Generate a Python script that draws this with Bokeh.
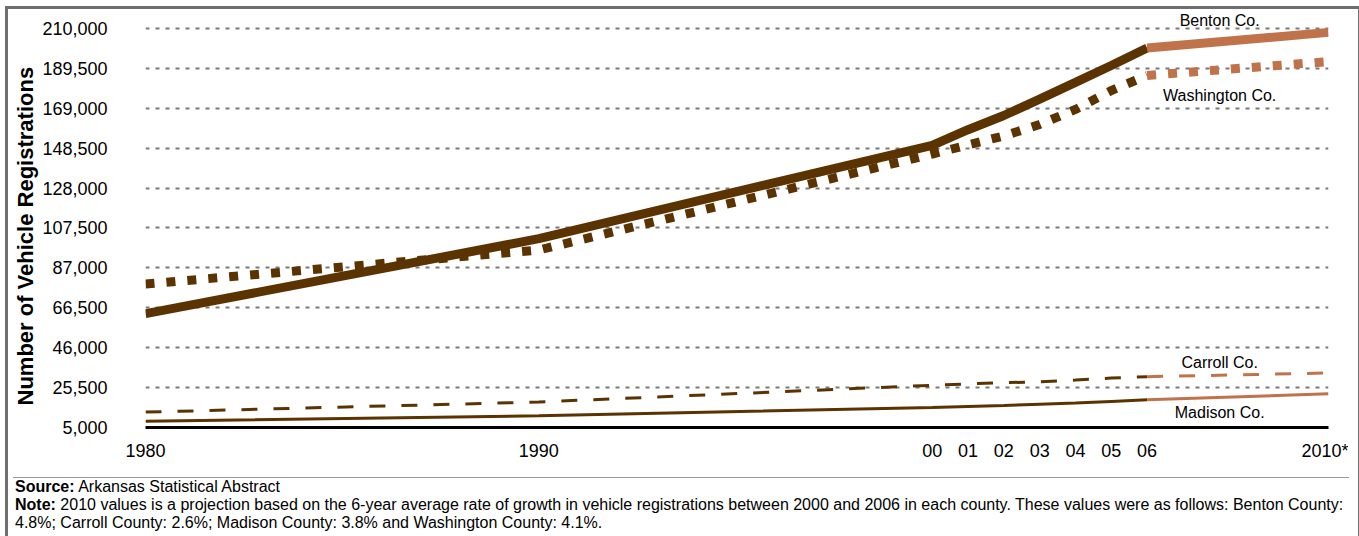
import numpy as np
from bokeh.plotting import figure
from bokeh.models import ColumnDataSource, FixedTicker, NumeralTickFormatter, Range1d, Title, Div
from bokeh.layouts import column
from bokeh.core.properties import value
from bokeh.embed import file_html
from bokeh.resources import INLINE

# ---------------- data ----------------
YEARS = [1980, 1990, 2000, 2001, 2002, 2003, 2004, 2005, 2006, 2010]
BENTON = [63500, 102000, 150000, 158000, 165300, 173700, 182300, 191000, 200000, 208000]
WASHINGTON = [78700, 96200, 145500, 150200, 154800, 160700, 168400, 178100, 185900, 193000]
CARROLL = [12900, 18100, 26700, 27400, 28000, 28500, 29400, 30400, 31100, 33000]
MADISON = [8200, 11000, 15300, 15800, 16300, 17000, 17600, 18400, 19200, 22300]
SERIES_NAMES = ["Benton Co.", "Washington Co.", "Carroll Co.", "Madison Co."]
LABEL_VALUES = [214100, 175600, 38400, 12700]

Y_TICKS = [5000, 25500, 46000, 66500, 87000, 107500, 128000, 148500, 169000, 189500, 210000]
X_TICK_YEARS = [1980, 1990, 2000, 2001, 2002, 2003, 2004, 2005, 2006, 2010]
X_TICK_LABELS = ["1980", "1990", "00", "01", "02", "03", "04", "05", "06", "2010*"]

# the original chart's time axis is not linear: piecewise year -> axis slot
AXIS_YEARS = [1980, 2000, 2006, 2010]
AXIS_SLOTS = [0.0, 19.95, 25.4, 30.0]
LABEL_YEAR = 2007.6


def axis_pos(years):
    return [float(v) for v in np.interp(years, AXIS_YEARS, AXIS_SLOTS)]


DARK = "#5b3300"
LIGHT = "#c0724a"
FONT = "Liberation Sans"

p = figure(width=1340, height=463, x_range=Range1d(0, 30), y_range=Range1d(5000, 219760),
           output_backend="svg", toolbar_location=None,
           min_border_left=132, min_border_right=20, min_border_top=0, min_border_bottom=45)
p.outline_line_color = None
p.background_fill_color = "white"
p.border_fill_color = "white"

p.xgrid.visible = False
p.ygrid.ticker = FixedTicker(ticks=Y_TICKS)
p.ygrid.grid_line_color = "#7a7a7a"
p.ygrid.grid_line_dash = "4 6"
p.ygrid.grid_line_width = 2

yax = p.yaxis[0]
yax.ticker = FixedTicker(ticks=Y_TICKS)
yax.formatter = NumeralTickFormatter(format="0,0")
yax.axis_line_color = None
yax.major_tick_line_color = None
yax.minor_tick_line_color = None
yax.major_label_standoff = 32
yax.major_label_text_font_size = "18px"
yax.major_label_text_font = FONT
yax.major_label_text_color = "black"

xpos_ticks = axis_pos(X_TICK_YEARS)
xax = p.xaxis[0]
xax.ticker = FixedTicker(ticks=xpos_ticks)
xax.major_label_overrides = {t: lab for t, lab in zip(xpos_ticks, X_TICK_LABELS)}
xax.axis_line_color = "black"
xax.axis_line_width = 3
xax.major_tick_line_color = None
xax.minor_tick_line_color = None
xax.major_label_standoff = 7
xax.major_label_text_font_size = "18px"
xax.major_label_text_font = FONT
xax.major_label_text_color = "black"

p.add_layout(Title(text="Number of Vehicle Registrations", align="left", offset=22, standoff=4,
                   text_font_size="22px", text_font_style="bold", text_font=FONT,
                   text_color="black"), "left")

X = axis_pos(YEARS)
hist = slice(0, 9)   # 1980 .. 2006
proj = slice(8, 10)  # 2006 .. 2010 projection

styles = [
    (WASHINGTON, dict(line_width=9, line_dash="9 12")),
    (BENTON, dict(line_width=9)),
    (CARROLL, dict(line_width=3, line_dash="16 16")),
    (MADISON, dict(line_width=3)),
]
for vals, st in styles:
    p.line(X[hist], vals[hist], line_color=DARK, line_cap="butt", **st)
    p.line(X[proj], vals[proj], line_color=LIGHT, line_cap="butt", **st)

lab_src = ColumnDataSource(dict(x=[axis_pos([LABEL_YEAR])[0]] * len(SERIES_NAMES),
                                y=LABEL_VALUES, t=SERIES_NAMES))
p.text(x="x", y="y", text="t", source=lab_src, text_font=value(FONT),
       text_font_size="16px", text_align="center", text_baseline="middle",
       text_color="black")

note_html = (
    '<div style="font-family: \'Liberation Sans\', Arial, sans-serif; font-size: 16px; '
    'line-height: 18px; color: black; border-top: 1px solid #9a9a9a; padding: 0 0 0 2px; '
    'white-space: nowrap; width: 1336px;">'
    '<b>Source:</b> Arkansas Statistical Abstract<br>'
    '<b>Note:</b> 2010 values is a projection based on the 6-year average rate of growth in '
    'vehicle registrations between 2000 and 2006 in each county. These values were as follows: '
    'Benton County:<br>'
    '4.8%; Carroll County: 2.6%; Madison County: 3.8% and Washington County: 4.1%.'
    '</div>'
)
note = Div(text=note_html, width=1340, height=58)

layout = column(p, note, styles={"border-top": "3px solid #6e6e6e",
                                  "border-left": "3px solid #6e6e6e",
                                  "border-right": "3px solid #6e6e6e",
                                  "margin-top": "6px",
                                  "margin-left": "5px"})

open("out.html", "w").write(file_html(layout, INLINE))
